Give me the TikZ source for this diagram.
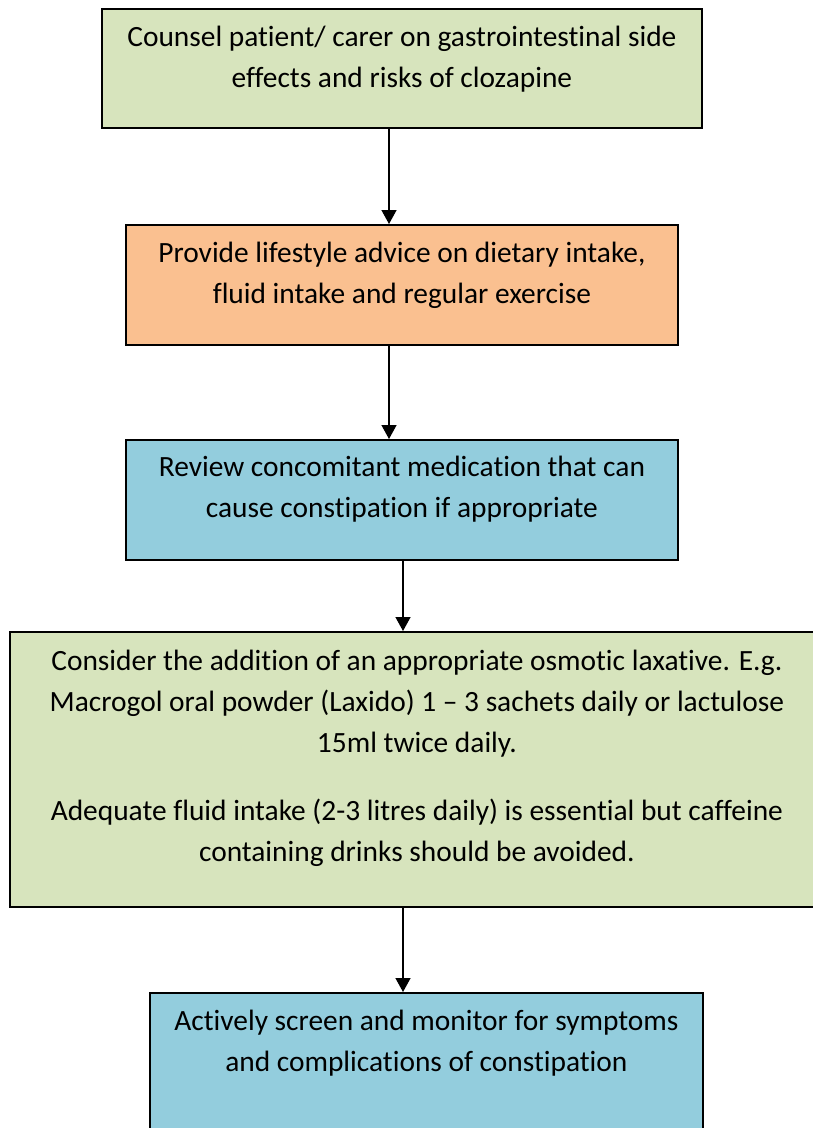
\documentclass[tikz,border=0pt]{standalone}
\usepackage{fontspec}
\setmainfont[Ligatures=NoCommon]{Carlito}
\usetikzlibrary{arrows.meta,calc}
\definecolor{boxgreen}{HTML}{D7E4BD}
\definecolor{boxorange}{HTML}{FAC090}
\definecolor{boxblue}{HTML}{93CDDD}
\newcommand{\firstline}{\rule{0pt}{30pt}}
\begin{document}
\begin{tikzpicture}[x=1pt,y=1pt,
  stepbox/.style={draw=black, line width=1.8pt, inner sep=0pt, anchor=north west},
  boxtext/.style={anchor=north, inner sep=0pt, align=center, font=\fontsize{29.4}{41}\selectfont},
  arr/.style={line width=1.4pt, -{Triangle[length=14pt,width=15pt]}}]
\useasboundingbox (0,0) rectangle (813,-1128);
\node[stepbox, fill=boxgreen, minimum width=600pt, minimum height=119pt] (b1) at (101,-8) {};
\node[stepbox, fill=boxorange, minimum width=552pt, minimum height=120pt] (b2) at (125,-224) {};
\node[stepbox, fill=boxblue, minimum width=552pt, minimum height=120pt] (b3) at (125,-439) {};
\node[stepbox, fill=boxgreen, minimum width=814pt, minimum height=275pt] (b4) at (9,-631) {};
\node[stepbox, fill=boxblue, minimum width=553pt, minimum height=160pt] (b5) at (149,-992) {};

\node[boxtext] (t1) at ($(b1.north)+(0,-8)$) {\firstline Counsel patient/ carer on gastrointestinal side\\effects and risks of clozapine};
\node[boxtext] (t2) at ($(b2.north)+(0,-8)$) {\firstline Provide lifestyle advice on dietary intake,\\fluid intake and regular exercise};
\node[boxtext] (t3) at ($(b3.north)+(0,-7.5)$) {\firstline Review concomitant medication that can\\cause constipation if appropriate};
\node[boxtext] (t4) at ($(b4.north)+(0,-9)$) {\firstline Consider the addition of an appropriate osmotic laxative. E.g.\\Macrogol oral powder (Laxido) 1 -- 3 sachets daily or lactulose\\15ml twice daily.\\[27pt]Adequate fluid intake (2-3 litres daily) is essential but caffeine\\containing drinks should be avoided.};
\node[boxtext] (t5) at ($(b5.north)+(0,-8)$) {\firstline Actively screen and monitor for symptoms\\and complications of constipation};

\coordinate (a1) at (389,0);
\coordinate (a2) at (389,0);
\coordinate (a3) at (403,0);
\coordinate (a4) at (403,0);
\draw[arr] (b1.south -| a1) -- (b2.north -| a1);
\draw[arr] (b2.south -| a2) -- (b3.north -| a2);
\draw[arr] (b3.south -| a3) -- (b4.north -| a3);
\draw[arr] (b4.south -| a4) -- (b5.north -| a4);
\end{tikzpicture}
\end{document}
